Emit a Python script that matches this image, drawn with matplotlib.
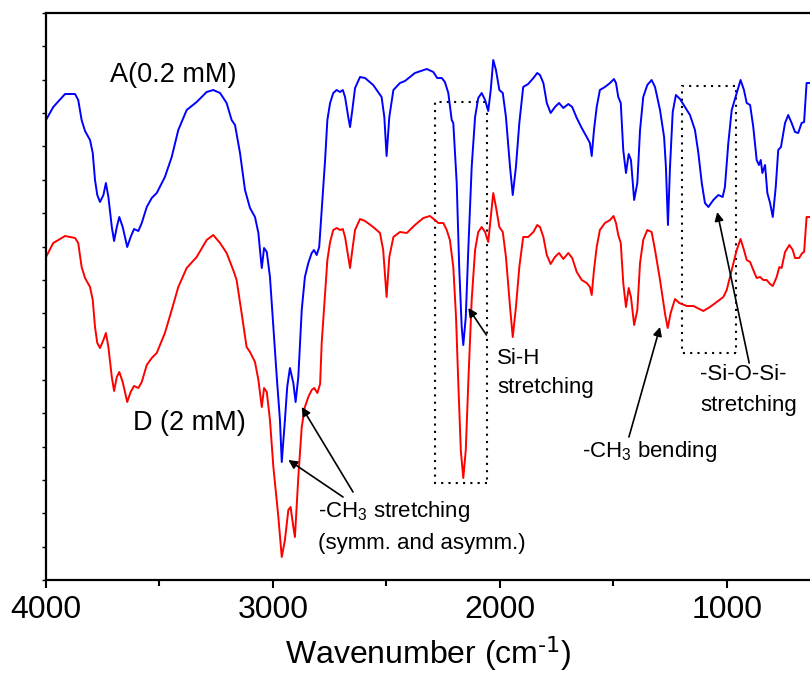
import matplotlib
matplotlib.use("Agg")
import matplotlib.pyplot as plt
from matplotlib.patches import Rectangle
from matplotlib.ticker import MultipleLocator, NullFormatter

plt.rcParams['font.family'] = ['Liberation Sans', 'DejaVu Sans']
plt.rcParams['mathtext.default'] = 'regular'

# FTIR spectra (transmittance, arbitrary units)
wn_a = [4000, 3968, 3916, 3872, 3858, 3843, 3828, 3806, 3794, 3784, 3774, 3762, 3747, 3736, 3725,
        3710, 3700, 3688, 3677, 3662, 3642, 3627, 3612, 3593, 3578, 3556, 3534, 3512, 3476, 3446,
        3417, 3380, 3336, 3292, 3263, 3233, 3204, 3182, 3167, 3145, 3123, 3101, 3079, 3064, 3057,
        3049, 3039, 3027, 3013, 2998, 2983, 2969, 2961, 2947, 2937, 2925, 2910, 2900, 2888, 2873,
        2859, 2844, 2829, 2819, 2807, 2796, 2785, 2770, 2760, 2748, 2734, 2719, 2704, 2692, 2682,
        2668, 2660, 2650, 2638, 2616, 2594, 2558, 2521, 2509, 2499, 2487, 2469, 2440, 2418, 2374,
        2322, 2293, 2276, 2256, 2242, 2227, 2212, 2205, 2190, 2179, 2168, 2161, 2150, 2139, 2124,
        2109, 2095, 2080, 2065, 2051, 2040, 2029, 2017, 2002, 1987, 1973, 1955, 1943, 1929, 1914,
        1897, 1875, 1852, 1835, 1823, 1808, 1793, 1776, 1757, 1739, 1720, 1698, 1681, 1661, 1639,
        1617, 1603, 1595, 1585, 1573, 1559, 1537, 1514, 1497, 1488, 1478, 1467, 1456, 1444, 1432,
        1422, 1408, 1394, 1382, 1368, 1350, 1331, 1316, 1294, 1276, 1268, 1259, 1250, 1238, 1224,
        1206, 1184, 1162, 1140, 1125, 1110, 1096, 1081, 1059, 1037, 1018, 1008, 993, 978, 956,
        939, 924, 912, 897, 883, 868, 858, 850, 843, 831, 821, 809, 797, 784, 773,
        761, 743, 729, 714, 699, 685, 670, 659, 648, 633]
t_a = [460, 473, 486, 486, 480, 460, 449, 440, 427, 400, 385, 378, 385, 397, 383,
       353, 339, 353, 363, 353, 333, 343, 351, 349, 357, 373, 382, 387, 403, 423,
       450, 470, 478, 488, 490, 487, 477, 460, 455, 427, 390, 372, 363, 347, 330,
       312, 332, 328, 303, 253, 203, 160, 118, 160, 193, 212, 197, 178, 203, 270,
       303, 317, 327, 330, 325, 333, 370, 420, 460, 477, 487, 490, 488, 490, 483,
       463, 453, 470, 492, 503, 502, 495, 483, 463, 424, 463, 490, 497, 499, 507,
       511, 508, 502, 502, 498, 487, 460, 457, 397, 313, 253, 235, 263, 330, 413,
       463, 482, 487, 480, 469, 490, 520, 510, 490, 487, 463, 413, 385, 413, 457,
       493, 496, 502, 507, 505, 497, 477, 467, 473, 477, 472, 476, 473, 462, 452,
       443, 437, 424, 450, 473, 490, 493, 497, 501, 497, 483, 477, 430, 407, 426,
       420, 380, 397, 450, 483, 495, 500, 493, 470, 443, 413, 355, 413, 468, 485,
       481, 473, 465, 450, 427, 397, 377, 373, 380, 385, 383, 393, 437, 470, 487,
       500, 490, 477, 475, 453, 420, 415, 420, 407, 415, 387, 377, 363, 393, 430,
       433, 457, 465, 457, 448, 447, 457, 458, 497, 497]

wn_d = [4000, 3968, 3916, 3872, 3858, 3843, 3828, 3806, 3794, 3784, 3774, 3762, 3747, 3736, 3725,
        3710, 3700, 3688, 3677, 3662, 3642, 3627, 3612, 3593, 3578, 3556, 3534, 3512, 3476, 3446,
        3417, 3380, 3336, 3292, 3263, 3233, 3204, 3175, 3160, 3138, 3116, 3101, 3079, 3064, 3057,
        3049, 3039, 3027, 3013, 2998, 2976, 2961, 2947, 2932, 2922, 2910, 2903, 2888, 2873, 2859,
        2844, 2829, 2818, 2804, 2792, 2785, 2770, 2760, 2748, 2734, 2719, 2704, 2692, 2682, 2668,
        2660, 2650, 2638, 2616, 2594, 2558, 2528, 2514, 2499, 2487, 2469, 2440, 2410, 2374, 2337,
        2308, 2286, 2271, 2249, 2234, 2220, 2205, 2193, 2183, 2172, 2161, 2150, 2139, 2124, 2109,
        2095, 2080, 2065, 2051, 2040, 2029, 2017, 2002, 1987, 1973, 1955, 1943, 1929, 1914, 1897,
        1875, 1852, 1835, 1823, 1808, 1793, 1776, 1757, 1739, 1720, 1698, 1681, 1661, 1639, 1617,
        1603, 1595, 1585, 1573, 1559, 1537, 1514, 1499, 1488, 1478, 1467, 1456, 1444, 1432, 1422,
        1408, 1394, 1382, 1368, 1350, 1331, 1316, 1294, 1279, 1271, 1260, 1247, 1228, 1209, 1176,
        1147, 1103, 1074, 1044, 1015, 1000, 978, 956, 939, 924, 912, 897, 883, 868, 853,
        839, 824, 809, 797, 780, 768, 758, 743, 724, 709, 699, 681, 667, 659, 648,
        633]
t_d = [323, 337, 344, 342, 337, 313, 302, 293, 280, 253, 237, 232, 240, 247, 233,
       203, 189, 203, 208, 198, 178, 188, 194, 192, 198, 215, 222, 227, 247, 270,
       293, 312, 323, 340, 345, 337, 327, 310, 300, 267, 233, 228, 218, 200, 187,
       173, 192, 188, 160, 113, 63, 23, 40, 70, 73, 53, 43, 103, 153, 173,
       183, 190, 192, 187, 196, 237, 287, 320, 338, 350, 352, 350, 351, 343, 323,
       312, 330, 350, 361, 359, 353, 347, 330, 283, 323, 343, 348, 347, 355, 362,
       364, 360, 357, 357, 350, 340, 313, 263, 197, 130, 102, 130, 197, 280, 330,
       348, 353, 348, 338, 363, 387, 373, 353, 348, 323, 273, 243, 273, 313, 343,
       343, 348, 355, 353, 343, 325, 316, 323, 327, 321, 327, 322, 308, 300, 297,
       293, 285, 310, 333, 350, 357, 360, 364, 357, 345, 337, 297, 273, 292, 283,
       255, 270, 317, 340, 350, 348, 330, 300, 277, 265, 252, 267, 281, 277, 274,
       274, 269, 273, 278, 283, 290, 310, 330, 341, 330, 320, 318, 310, 302, 303,
       300, 300, 296, 294, 303, 313, 312, 328, 335, 330, 322, 322, 327, 328, 363,
       363]

fig = plt.figure(figsize=(8.1, 6.84), dpi=100)
ax = fig.add_axes([46 / 810, 104 / 684, 764 / 810, 567 / 684])

ax.plot(wn_a, t_a, color='#0000ff', lw=1.4)
ax.plot(wn_d, t_d, color='#ff0000', lw=1.4)

ax.set_xlim(4000, 633)
ax.set_ylim(0, 567)

# dotted boxes around Si-H and Si-O-Si bands
ax.add_patch(Rectangle((2057, 97), 229, 381, fill=False, ls=(0, (1, 2.5)), lw=1.5, color='k'))
ax.add_patch(Rectangle((959, 227), 238, 267, fill=False, ls=(0, (1, 2.5)), lw=1.5, color='k'))

ax.text(3718, 505, 'A(0.2 mM)', fontsize=19.5, va='center')
ax.text(3617, 157, 'D (2 mM)', fontsize=19.5, va='center')
ax.text(2801, 68, '-CH$_3$ stretching', fontsize=16, va='center')
ax.text(2801, 37, '(symm. and asymm.)', fontsize=16, va='center')
ax.text(2012, 222, 'Si-H', fontsize=16, va='center')
ax.text(2012, 193, 'stretching', fontsize=16, va='center')
ax.text(1638, 128, '-CH$_3$ bending', fontsize=16, va='center')
ax.text(1118, 205, '-Si-O-Si-', fontsize=16, va='center')
ax.text(1118, 175, 'stretching', fontsize=16, va='center')

arrow = dict(arrowstyle='-|>', color='k', lw=1.2, mutation_scale=13, shrinkA=0, shrinkB=0)
ax.annotate('', xy=(2873, 173), xytext=(2647, 88), arrowprops=arrow)
ax.annotate('', xy=(2932, 120), xytext=(2691, 83), arrowprops=arrow)
ax.annotate('', xy=(2139, 272), xytext=(2059, 245), arrowprops=arrow)
ax.annotate('', xy=(1294, 253), xytext=(1431, 143), arrowprops=arrow)
ax.annotate('', xy=(1042, 368), xytext=(901, 217), arrowprops=arrow)

ax.spines['right'].set_visible(False)
for s in ['left', 'bottom', 'top']:
    ax.spines[s].set_linewidth(1.6)

ax.xaxis.set_major_locator(MultipleLocator(1000))
ax.xaxis.set_minor_locator(MultipleLocator(500))
ax.tick_params(axis='x', which='major', direction='out', length=6, width=1.5,
               labelsize=23, pad=5, top=False)
ax.tick_params(axis='x', which='minor', direction='out', length=4, width=1.5, top=False)

ax.yaxis.set_major_locator(MultipleLocator(33.35))
ax.yaxis.set_major_formatter(NullFormatter())
ax.tick_params(axis='y', which='major', direction='out', length=3, width=1.0)

ax.set_xlabel('Wavenumber (cm$^{\\text{-1}}$)', fontsize=23, labelpad=6)

fig.savefig('out.png', dpi=100)
